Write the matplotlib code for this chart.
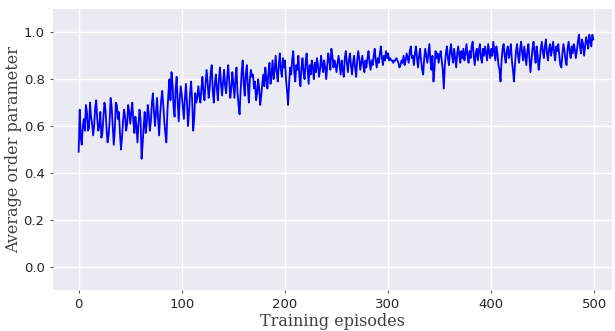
import matplotlib
matplotlib.use("Agg")
from matplotlib import pyplot as plt
import numpy as np

# average order parameter per training episode
order_param = [
    0.49, 0.67, 0.55, 0.52, 0.60, 0.63, 0.58, 0.69, 0.66, 0.58, 0.59, 0.70, 0.64, 0.61, 0.56, 0.60, 0.68, 0.71, 0.63, 0.58, 0.60, 0.66, 0.55, 0.57, 0.64,
    0.70, 0.67, 0.59, 0.53, 0.56, 0.62, 0.72, 0.68, 0.60, 0.52, 0.58, 0.70, 0.69, 0.63, 0.66, 0.57, 0.50, 0.55, 0.62, 0.67, 0.64, 0.58, 0.61, 0.69, 0.66,
    0.61, 0.66, 0.70, 0.62, 0.57, 0.64, 0.60, 0.53, 0.61, 0.67, 0.63, 0.46, 0.52, 0.60, 0.66, 0.57, 0.61, 0.69, 0.65, 0.58, 0.62, 0.70, 0.74, 0.66, 0.60,
    0.66, 0.72, 0.63, 0.56, 0.65, 0.71, 0.75, 0.69, 0.62, 0.57, 0.53, 0.66, 0.74, 0.80, 0.71, 0.83, 0.78, 0.68, 0.64, 0.76, 0.81, 0.70, 0.62, 0.72, 0.77,
    0.73, 0.68, 0.63, 0.72, 0.78, 0.70, 0.60, 0.66, 0.74, 0.79, 0.71, 0.58, 0.63, 0.74, 0.70, 0.72, 0.77, 0.73, 0.70, 0.76, 0.81, 0.74, 0.71, 0.78, 0.84,
    0.79, 0.72, 0.76, 0.83, 0.86, 0.75, 0.70, 0.78, 0.82, 0.76, 0.71, 0.80, 0.85, 0.78, 0.73, 0.79, 0.84, 0.77, 0.74, 0.81, 0.86, 0.79, 0.72, 0.76, 0.83,
    0.78, 0.72, 0.80, 0.85, 0.74, 0.69, 0.65, 0.75, 0.83, 0.88, 0.78, 0.73, 0.82, 0.86, 0.77, 0.70, 0.80, 0.84, 0.81, 0.82, 0.76, 0.79, 0.71, 0.74, 0.80,
    0.76, 0.69, 0.73, 0.78, 0.82, 0.77, 0.85, 0.80, 0.76, 0.83, 0.87, 0.78, 0.82, 0.88, 0.80, 0.84, 0.90, 0.83, 0.79, 0.86, 0.91, 0.84, 0.81, 0.89, 0.85,
    0.88, 0.80, 0.75, 0.69, 0.78, 0.85, 0.82, 0.88, 0.92, 0.83, 0.79, 0.86, 0.84, 0.90, 0.81, 0.77, 0.85, 0.89, 0.83, 0.80, 0.87, 0.91, 0.84, 0.78, 0.86,
    0.82, 0.88, 0.85, 0.80, 0.87, 0.83, 0.89, 0.86, 0.81, 0.84, 0.90, 0.86, 0.83, 0.88, 0.85, 0.80, 0.86, 0.91, 0.88, 0.84, 0.93, 0.90, 0.85, 0.88, 0.86,
    0.83, 0.87, 0.90, 0.86, 0.82, 0.88, 0.84, 0.81, 0.89, 0.92, 0.87, 0.83, 0.88, 0.91, 0.86, 0.82, 0.87, 0.90, 0.85, 0.81, 0.88, 0.92, 0.89, 0.84, 0.87,
    0.90, 0.86, 0.83, 0.88, 0.85, 0.89, 0.92, 0.87, 0.84, 0.88, 0.86, 0.90, 0.93, 0.88, 0.85, 0.89, 0.87, 0.91, 0.94, 0.89, 0.86, 0.90, 0.88, 0.92, 0.89,
    0.91, 0.88, 0.89, 0.88, 0.88, 0.87, 0.88, 0.88, 0.89, 0.88, 0.87, 0.85, 0.86, 0.88, 0.87, 0.90, 0.86, 0.88, 0.91, 0.89, 0.87, 0.92, 0.94, 0.89, 0.90,
    0.86, 0.91, 0.94, 0.89, 0.85, 0.90, 0.93, 0.88, 0.84, 0.82, 0.89, 0.93, 0.90, 0.87, 0.91, 0.95, 0.88, 0.84, 0.90, 0.79, 0.85, 0.92, 0.89, 0.91, 0.87,
    0.90, 0.92, 0.88, 0.84, 0.76, 0.86, 0.91, 0.94, 0.89, 0.86, 0.92, 0.95, 0.90, 0.87, 0.93, 0.89, 0.85, 0.91, 0.94, 0.90, 0.87, 0.92, 0.89, 0.93, 0.88,
    0.91, 0.95, 0.90, 0.87, 0.92, 0.89, 0.94, 0.96, 0.90, 0.86, 0.91, 0.93, 0.88, 0.92, 0.95, 0.89, 0.87, 0.93, 0.90, 0.94, 0.91, 0.88, 0.95, 0.92, 0.89,
    0.93, 0.90, 0.96, 0.92, 0.88, 0.94, 0.91, 0.86, 0.84, 0.79, 0.88, 0.93, 0.95, 0.90, 0.87, 0.92, 0.94, 0.89, 0.91, 0.95, 0.88, 0.84, 0.79, 0.86, 0.92,
    0.95, 0.90, 0.87, 0.93, 0.96, 0.91, 0.88, 0.94, 0.90, 0.86, 0.92, 0.95, 0.89, 0.83, 0.88, 0.93, 0.96, 0.91, 0.87, 0.94, 0.90, 0.84, 0.88, 0.93, 0.96,
    0.92, 0.89, 0.94, 0.97, 0.91, 0.88, 0.93, 0.95, 0.90, 0.93, 0.96, 0.91, 0.88, 0.94, 0.92, 0.95, 0.90, 0.86, 0.85, 0.91, 0.95, 0.92, 0.88, 0.86, 0.93,
    0.96, 0.92, 0.89, 0.94, 0.91, 0.95, 0.93, 0.89, 0.92, 0.96, 0.99, 0.94, 0.91, 0.97, 0.95, 0.90, 0.94, 0.98, 0.96, 0.93, 0.99, 0.97, 0.94, 0.99, 0.97,
]
episodes = np.arange(len(order_param))

xticks = [0, 100, 200, 300, 400, 500]
yticks = [0.0, 0.2, 0.4, 0.6, 0.8, 1.0]

fig = plt.figure(figsize=(6.15, 3.31), dpi=100)
ax = fig.add_axes([0.086, 0.124, 0.909, 0.849])
ax.set_facecolor("#EAEAF2")
for s in ax.spines.values():
    s.set_visible(False)
ax.grid(color="white", linewidth=1.0)
ax.set_axisbelow(True)

ax.plot(episodes, order_param, color="#0000ff", linewidth=1.3)

ax.set_xlim(-25, 517)
ax.set_ylim(-0.1, 1.1)
ax.set_xticks(xticks)
ax.set_yticks(yticks)
ax.set_yticklabels(["%.1f" % v for v in yticks])
ax.tick_params(labelsize=9.5, length=2.5, color="#555555", labelcolor="#262626")

ax.set_xlabel("Training episodes", family="DejaVu Serif", fontsize=11.5, color="#404040", labelpad=1)
ax.set_ylabel("Average order parameter", family="DejaVu Serif", fontsize=11.5, color="#404040", labelpad=1)

fig.savefig("out.png", dpi=100)
